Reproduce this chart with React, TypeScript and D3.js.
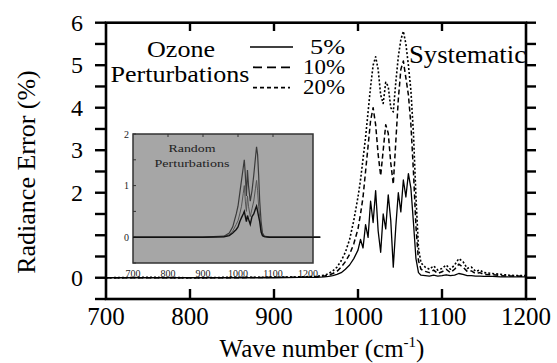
import React from "react";
import * as d3 from "d3";

// ---------- data ----------
const waveNumbers = [
  700, 750, 800, 850, 900, 930, 950,
  960, 965, 970, 975, 980, 985, 990, 995, 1000,
  1003, 1006, 1009, 1012, 1015, 1018, 1021, 1024, 1027, 1030, 1033, 1036, 1039,
  1042, 1045, 1048, 1051, 1054, 1057, 1060, 1063, 1066, 1069, 1072, 1075,
  1080, 1085, 1090, 1095, 1100, 1105, 1110, 1115, 1120, 1125, 1130, 1135, 1140, 1145,
  1150, 1160, 1170, 1180, 1190, 1200,
];
const err5 = [
  0, 0, 0, 0, 0, 0.01, 0.01,
  0.02, 0.03, 0.05, 0.08, 0.12, 0.2, 0.3, 0.45, 0.65,
  0.9, 0.7, 1.25, 0.95, 1.8, 1.3, 2.05, 1.1, 0.6, 1.5, 1.15, 1.95, 1.35,
  0.25, 1.2, 2.0, 1.55, 2.3, 1.9, 2.45, 2.1, 1.3, 0.45, 0.12, 0.06,
  0.05, 0.04, 0.06, 0.04, 0.05, 0.07, 0.05, 0.06, 0.1, 0.08, 0.05, 0.05, 0.04, 0.04,
  0.03, 0.03, 0.02, 0.02, 0.02, 0.02,
];
const err10 = [
  0, 0, 0, 0, 0.01, 0.01, 0.02,
  0.04, 0.06, 0.1, 0.15, 0.25, 0.38, 0.55, 0.8, 1.15,
  1.5, 1.9, 2.5, 3.1, 3.7, 4.0, 3.6, 2.9, 2.4, 3.0, 3.6, 3.4, 2.7,
  2.2, 3.2, 4.2, 4.9, 5.1, 4.7, 4.3, 3.6, 2.5, 1.2, 0.4, 0.2,
  0.15, 0.12, 0.18, 0.1, 0.14, 0.2, 0.12, 0.2, 0.32, 0.25, 0.15, 0.16, 0.1, 0.12,
  0.08, 0.07, 0.05, 0.04, 0.04, 0.03,
];
const err20 = [
  0, 0.01, 0, 0.01, 0.01, 0.02, 0.03,
  0.06, 0.1, 0.16, 0.25, 0.4, 0.6, 0.9, 1.35, 1.9,
  2.3, 2.8, 3.3, 3.9, 4.5, 5.0, 5.2, 4.9, 4.3, 4.1, 4.6, 4.5, 4.0,
  3.9, 4.6, 5.2, 5.6, 5.8, 5.5, 5.0, 4.4, 3.4, 1.9, 0.7, 0.35,
  0.25, 0.2, 0.28, 0.18, 0.22, 0.3, 0.2, 0.3, 0.45, 0.38, 0.22, 0.25, 0.15, 0.18,
  0.12, 0.1, 0.08, 0.06, 0.05, 0.05,
];

const insetWave = [
  700, 900, 960, 975, 985, 995, 1000, 1005, 1010, 1015, 1018, 1021, 1024, 1027,
  1030, 1035, 1040, 1045, 1050, 1053, 1056, 1059, 1062, 1066, 1070, 1075, 1090, 1235,
];
const inset20 = [
  0, 0, 0.02, 0.08, 0.2, 0.45, 0.6, 0.85, 1.1, 1.35, 1.5, 1.2, 0.8, 1.3,
  1.0, 0.7, 0.9, 1.2, 1.55, 1.75, 1.6, 1.2, 0.7, 0.3, 0.08, 0.02, 0, 0,
];
const inset10 = [
  0, 0, 0.01, 0.05, 0.12, 0.25, 0.32, 0.45, 0.6, 0.85, 1.0, 0.7, 0.5, 0.8,
  0.6, 0.4, 0.55, 0.7, 0.95, 1.1, 0.9, 0.6, 0.4, 0.15, 0.04, 0.01, 0, 0,
];
const inset5 = [
  0, 0, 0.01, 0.03, 0.08, 0.15, 0.2, 0.3, 0.38, 0.45, 0.5, 0.4, 0.3, 0.42,
  0.35, 0.25, 0.4, 0.45, 0.55, 0.6, 0.5, 0.4, 0.3, 0.1, 0.03, 0.01, 0, 0,
];

const xTickLabels = [700, 800, 900, 1000, 1100, 1200];
const yTickLabels = [0, 2, 3, 4, 5, 6];
const insetXTickLabels = [700, 800, 900, 1000, 1100, 1200];
const insetYTickLabels = [0, 1, 2];
const legendItems = ["5%", "10%", "20%"];

const F = "Liberation Serif";

export default function App() {
  const x = d3.scaleLinear().domain([700, 1200]).range([106, 526]);
  const y = d3.scaleLinear().domain([-0.5, 6]).range([299, 22.7]);
  const ix = d3.scaleLinear().domain([700, 1200]).range([133, 308]);
  const iy = d3.scaleLinear().domain([-0.5, 2]).range([263, 134]);

  const yMinor = d3.range(-0.5, 6.001, 0.5);

  const mainLine = (vals: number[]) =>
    d3
      .line<number>()
      .x((_, i) => x(waveNumbers[i]))
      .y((v) => y(v))(vals) as string;
  const insetLine = (vals: number[]) =>
    d3
      .line<number>()
      .x((_, i) => ix(insetWave[i]))
      .y((v) => iy(v))(vals) as string;

  const styles = [
    { dash: undefined as string | undefined, w: 1.3 },
    { dash: "5,3", w: 1.5 },
    { dash: "2,2", w: 1.6 },
  ];
  const legendLen = [35, 42, 42];

  return (
    <svg width={557} height={363} style={{ position: "absolute", left: 0, top: 0, background: "#fff" }}>
      <rect x={0} y={0} width={557} height={363} fill="#fff" />

      {/* inset */}
      <g>
        <rect x={133} y={134} width={180} height={129} fill="#a6a6a6" stroke="#333" strokeWidth={1.5} />
        {insetYTickLabels.map((v) => (
          <text key={"iy" + v} x={129} y={iy(v) + 3.5} fontSize={10} fontFamily={F} textAnchor="end" fill="#222">
            {v}
          </text>
        ))}
        {d3.range(-0.5, 2.01, 0.5).map((v) => (
          <line key={"iyt" + v} x1={133} x2={136} y1={iy(v)} y2={iy(v)} stroke="#333" strokeWidth={1} />
        ))}
        {insetXTickLabels.slice(1, 5).map((v) => (
          <line key={"ixt" + v} x1={ix(v)} x2={ix(v)} y1={134} y2={137} stroke="#333" strokeWidth={1} />
        ))}
        {insetXTickLabels.map((v) => (
          <text key={"ix" + v} x={ix(v)} y={277} fontSize={10} fontFamily={F} textAnchor="middle" fill="#222">
            {v}
          </text>
        ))}
        <text x={192} y={152} fontSize={11} fontFamily={F} textAnchor="middle" fill="#222" textLength={47} lengthAdjust="spacingAndGlyphs">
          Random
        </text>
        <text x={192} y={167} fontSize={11} fontFamily={F} textAnchor="middle" fill="#222" textLength={75} lengthAdjust="spacingAndGlyphs">
          Perturbations
        </text>
        <path d={insetLine(inset20)} fill="none" stroke="#3a3a3a" strokeWidth={1.2} />
        <path d={insetLine(inset10)} fill="none" stroke="#555" strokeWidth={1} />
        <path d={insetLine(inset5)} fill="none" stroke="#111" strokeWidth={1.4} />
      </g>

      {/* main series */}
      {[err5, err10, err20].map((vals, i) => (
        <path
          key={"s" + i}
          d={mainLine(vals)}
          fill="none"
          stroke="#000"
          strokeWidth={styles[i].w}
          strokeDasharray={styles[i].dash}
          strokeLinejoin="round"
        />
      ))}

      {/* frame */}
      <rect x={106} y={22.7} width={420} height={276.3} fill="none" stroke="#000" strokeWidth={2.6} />
      {yMinor.map((v) => (
        <g key={"yt" + v}>
          <line x1={95} x2={106} y1={y(v)} y2={y(v)} stroke="#000" strokeWidth={2.4} />
          <line x1={526} x2={536} y1={y(v)} y2={y(v)} stroke="#000" strokeWidth={2.4} />
        </g>
      ))}
      {xTickLabels.slice(1, 5).map((v) => (
        <g key={"xt" + v}>
          <line x1={x(v)} x2={x(v)} y1={299} y2={289} stroke="#000" strokeWidth={2.4} />
          <line x1={x(v)} x2={x(v)} y1={22.7} y2={31} stroke="#000" strokeWidth={2.4} />
        </g>
      ))}

      {/* tick labels */}
      {yTickLabels.map((v) => (
        <text key={"yl" + v} x={83} y={y(v) + 8} fontSize={24} fontFamily={F} textAnchor="end">
          {v}
        </text>
      ))}
      {xTickLabels.map((v) => (
        <text key={"xl" + v} x={x(v)} y={325} fontSize={25} fontFamily={F} textAnchor="middle">
          {v}
        </text>
      ))}

      {/* axis titles */}
      <text x={322} y={357} fontSize={25} fontFamily={F} textAnchor="middle">
        Wave number (cm
        <tspan fontSize={15} dy={-10}>-1</tspan>
        <tspan dy={10}>)</tspan>
      </text>
      <text transform="translate(35,172) rotate(-90)" fontSize={26} fontFamily={F} textAnchor="middle">
        Radiance Error (%)
      </text>

      {/* legend */}
      <text x={181} y={57} fontSize={23} fontFamily={F} textAnchor="middle" textLength={68} lengthAdjust="spacingAndGlyphs">
        Ozone
      </text>
      <text x={180} y={82} fontSize={23} fontFamily={F} textAnchor="middle" textLength={139} lengthAdjust="spacingAndGlyphs">
        Perturbations
      </text>
      {legendItems.map((lab, i) => (
        <g key={"lg" + i}>
          <line
            x1={i === 0 ? 250 : 253}
            x2={i === 0 ? 293 : 290}
            y1={47 + i * 20.3}
            y2={47 + i * 20.3}
            stroke="#000"
            strokeWidth={i === 0 ? 1.6 : 1.8}
            strokeDasharray={i === 0 ? undefined : i === 1 ? "9,5" : "4,3"}
          />
          <text
            x={345 - legendLen[i]}
            y={54 + i * 20}
            fontSize={22}
            fontFamily={F}
            textLength={legendLen[i]}
            lengthAdjust="spacingAndGlyphs"
          >
            {lab}
          </text>
        </g>
      ))}
      <text x={409} y={63} fontSize={25} fontFamily={F} textLength={117} lengthAdjust="spacingAndGlyphs">
        Systematic
      </text>
    </svg>
  );
}
